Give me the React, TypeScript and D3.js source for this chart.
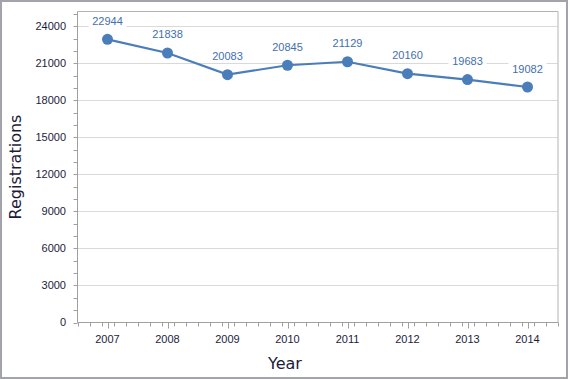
import React from "react";
import * as d3 from "d3";

const years = ["2007", "2008", "2009", "2010", "2011", "2012", "2013", "2014"];
const registrations = [22944, 21838, 20083, 20845, 21129, 20160, 19683, 19082];
const yTicks = [0, 3000, 6000, 9000, 12000, 15000, 18000, 21000, 24000];

const W = 570;
const H = 380;
const left = 77.5;
const right = 557.5;
const top = 11.5;
const bottom = 322.5;

export default function App() {
  const x = d3.scaleBand<string>().domain(years).range([left, right]);
  const y = d3.scaleLinear().domain([0, 25200]).range([bottom, top]);
  const cx = (d: string) => (x(d) as number) + x.bandwidth() / 2;
  const line = d3
    .line<number>()
    .x((_, i) => cx(years[i]))
    .y((v) => y(v));
  const minorY = d3.range(0, 25200, 1000);
  const minorX = d3.range(0, 41).map((i) => left + i * (x.bandwidth() / 5));
  const font = "'DejaVu Sans', Verdana, sans-serif";
  const numFont = "'Liberation Sans', Arial, sans-serif";
  const labelColor = "#1c1c3a";
  const blue = "#4a7ebb";

  return (
    <svg
      width={W}
      height={H}
      style={{ position: "absolute", left: 0, top: 0, display: "block" }}
      fontFamily={font}
    >
      <rect x={0} y={0} width={W} height={H} fill="#fff" />
      <rect x={1} y={1} width={566} height={377} fill="none" stroke="#a3a3ab" strokeWidth={2} />
      {yTicks.slice(1).map((t) => (
        <line key={"g" + t} x1={left} x2={right} y1={Math.round(y(t)) + 0.5} y2={Math.round(y(t)) + 0.5} stroke="#d9d9d9" />
      ))}
      <line x1={left} x2={right + 0.5} y1={top} y2={top} stroke="#b4b4b4" />
      <line x1={right + 0.5} x2={right + 0.5} y1={top} y2={bottom} stroke="#b4b4b4" />
      {minorY.map((t) => (
        <line key={"my" + t} x1={left - 4} x2={left} y1={Math.round(y(t)) + 0.5} y2={Math.round(y(t)) + 0.5} stroke="#a0a0a0" />
      ))}
      {minorX.map((px, i) => (
        <line
          key={"mx" + i}
          x1={Math.round(px) + 0.5}
          x2={Math.round(px) + 0.5}
          y1={bottom}
          y2={bottom + 4}
          stroke="#a0a0a0"
        />
      ))}
      {years.map((yr) => (
        <line
          key={"tx" + yr}
          x1={Math.round(cx(yr)) + 0.5}
          x2={Math.round(cx(yr)) + 0.5}
          y1={bottom}
          y2={bottom + 6}
          stroke="#a0a0a0"
        />
      ))}
      <line x1={left} x2={left} y1={top} y2={bottom} stroke="#a0a0a0" />
      <line x1={left} x2={right + 0.5} y1={bottom} y2={bottom} stroke="#a0a0a0" />
      {yTicks.map((t) => (
        <text key={"yl" + t} x={66} y={y(t)} dy="0.35em" textAnchor="end" fontSize={11} fill={labelColor} fontFamily={numFont}>
          {t}
        </text>
      ))}
      {years.map((yr) => (
        <text key={"xl" + yr} x={cx(yr)} y={343} textAnchor="middle" fontSize={11} fill={labelColor} fontFamily={numFont}>
          {yr}
        </text>
      ))}
      <text x={285} y={369} textAnchor="middle" fontSize={16} fill="#1c1c3a">
        Year
      </text>
      <text transform={`translate(21,167) rotate(-90)`} textAnchor="middle" fontSize={16} fill="#1c1c3a">
        Registrations
      </text>
      <path d={line(registrations) || ""} fill="none" stroke={blue} strokeWidth={2.2} />
      {registrations.map((v, i) => (
        <circle key={"c" + i} cx={cx(years[i])} cy={y(v)} r={5.5} fill={blue} />
      ))}
      {registrations.map((v, i) => (
        <g key={"dl" + i}>
          <rect x={cx(years[i]) - 19} y={y(v) - 25} width={38} height={13} fill="#fff" />
          <text x={cx(years[i])} y={y(v) - 14.5} textAnchor="middle" fontSize={11} fill="#3f6fad" fontFamily={numFont}>
            {v}
          </text>
        </g>
      ))}
    </svg>
  );
}
